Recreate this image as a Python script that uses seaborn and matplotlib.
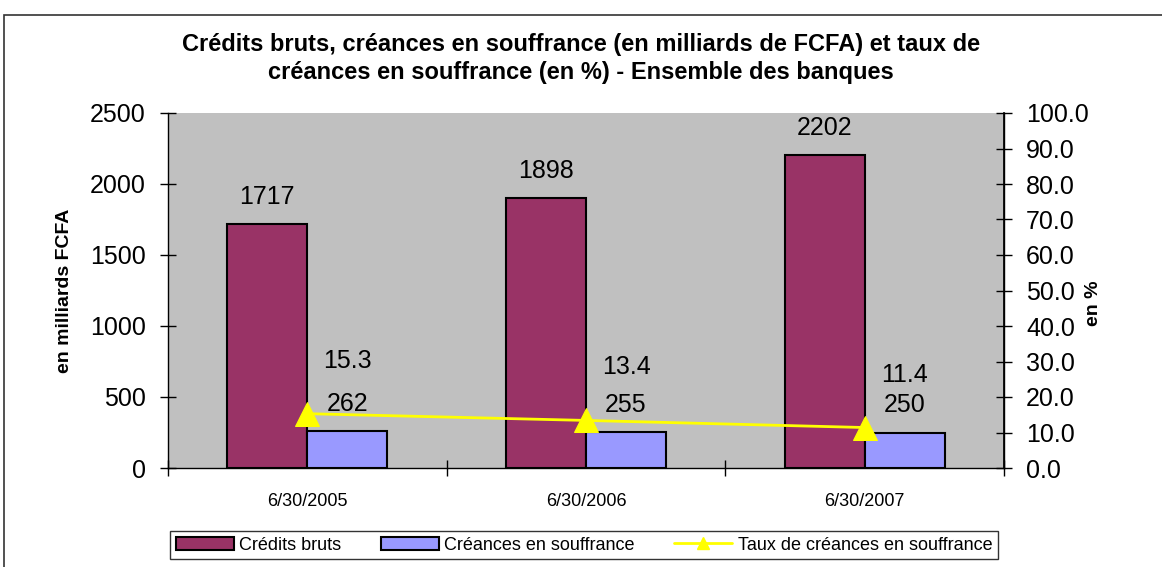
import matplotlib
matplotlib.use("Agg")
import matplotlib.pyplot as plt
import matplotlib.patches as mpatches
from matplotlib.lines import Line2D
import seaborn as sns
import pandas as pd

dates = ["6/30/2005", "6/30/2006", "6/30/2007"]
credits_bruts = [1717, 1898, 2202]
creances = [262, 255, 250]
taux = [15.3, 13.4, 11.4]
series_names = ["Crédits bruts", "Créances en souffrance", "Taux de créances en souffrance"]
left_ticks = [0, 500, 1000, 1500, 2000, 2500]
right_ticks = [0, 10, 20, 30, 40, 50, 60, 70, 80, 90, 100]

sns.set_theme(style="white")
plt.rcParams['font.family'] = ['Liberation Sans', 'DejaVu Sans']
plt.rcParams['text.color'] = 'black'
plt.rcParams['axes.labelcolor'] = 'black'
plt.rcParams['xtick.color'] = 'black'
plt.rcParams['ytick.color'] = 'black'

bar_colors = ["#993366", "#9999FF"]
line_color = "#FFFF00"

df = pd.DataFrame({
    "date": dates * 2,
    "value": credits_bruts + creances,
    "serie": [series_names[0]] * 3 + [series_names[1]] * 3,
})

fig = plt.figure(figsize=(11.62, 5.67), dpi=100)
ax = fig.add_axes([168/1162, 1-468/567, (1004-168)/1162, (468-113)/567])
ax.set_facecolor("#C0C0C0")

sns.barplot(data=df, x="date", y="value", hue="serie", palette=bar_colors, saturation=1,
            width=0.574, gap=0, edgecolor="black", linewidth=1.5, ax=ax, legend=False)
ax.set_xlim(-0.5, 2.5)
ax.set_ylim(0, 2500)
ax.set_yticks(left_ticks)
ax.set_yticklabels([str(t) for t in left_ticks], fontsize=18)
ax.set_xticks([-0.5, 0.5, 1.5, 2.5], minor=False)
ax.set_xticklabels([])
ax.set_xticks([0, 1, 2], minor=True)
ax.set_xticklabels(dates, minor=True, fontsize=13)
ax.tick_params(axis="x", which="major", direction="inout", length=12, width=1, color="black", bottom=True)
ax.tick_params(axis="x", which="minor", length=0, pad=18)
ax.tick_params(axis="y", direction="inout", length=12, width=1, color="black", left=True, pad=10)
ax.set_xlabel("")
ax.set_ylabel("en milliards FCFA", fontsize=14, fontweight="bold", labelpad=12)
ax.spines["top"].set_visible(False)
for s in ["left", "bottom", "right"]:
    ax.spines[s].set_color("black")
    ax.spines[s].set_linewidth(1)

for c in ax.containers:
    ax.bar_label(c, fmt="%d", padding=11, fontsize=18)

ax2 = ax.twinx()
sns.lineplot(x=[0, 1, 2], y=taux, color=line_color, linewidth=2, marker="^",
             markersize=17, markeredgecolor=line_color, ax=ax2, legend=False)
ax2.set_ylim(0, 100)
ax2.set_yticks(right_ticks)
ax2.set_yticklabels([f"{t:.1f}" for t in right_ticks], fontsize=18)
ax2.tick_params(axis="y", direction="inout", length=12, width=1, color="black", right=True, pad=10)
ax2.set_ylabel("")
for s in ["top", "left", "bottom"]:
    ax2.spines[s].set_visible(False)
ax2.spines["right"].set_color("black")
for i, v in enumerate(taux):
    ax2.annotate(f"{v:.1f}", xy=(i, v), xytext=(40, 53), textcoords="offset pixels",
                 ha="center", va="center", fontsize=18)
ax2.set_xlim(-0.5, 2.5)

fig.text(1093/1162, 1-303/567, "en %", rotation=90, ha="center", va="center",
         fontsize=14, fontweight="bold")

fig.text(0.5, 1-45/567, "Crédits bruts, créances en souffrance (en milliards de FCFA) et taux de",
         ha="center", va="center", fontsize=17, fontweight="bold")
fig.text(0.5, 1-72/567, "créances en souffrance (en %) - Ensemble des banques",
         ha="center", va="center", fontsize=17, fontweight="bold")

handles = [mpatches.Patch(facecolor=bar_colors[0], edgecolor="black", linewidth=1.5),
           mpatches.Patch(facecolor=bar_colors[1], edgecolor="black", linewidth=1.5),
           Line2D([0], [0], color=line_color, linewidth=2, marker="^", markersize=8)]
leg = fig.legend(handles, series_names, loc="center", bbox_to_anchor=(584/1162, 1-545/567),
                 ncol=3, fontsize=13, frameon=True, fancybox=False, edgecolor="black",
                 handlelength=3.2, handletextpad=0.3, columnspacing=2.2, borderpad=0.3)
leg.get_frame().set_linewidth(1)

border = mpatches.Rectangle((4/1162, -0.05), 1.1, 1-15/567+0.05, transform=fig.transFigure,
                            fill=False, edgecolor="#333333", linewidth=1.2)
fig.patches.append(border)

fig.savefig("out.png", dpi=100)
